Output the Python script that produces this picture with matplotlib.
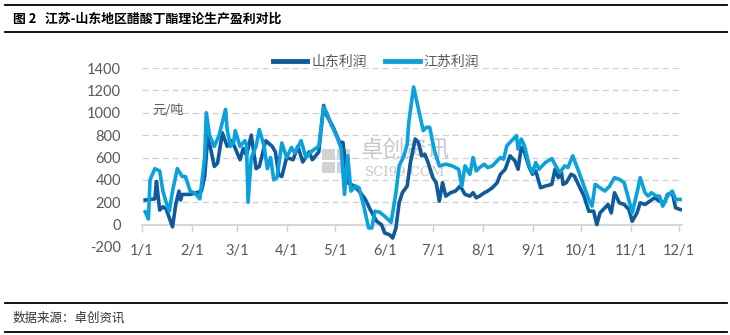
import numpy as np
import pandas as pd
import matplotlib
matplotlib.use('Agg')
import matplotlib.pyplot as plt
import matplotlib.dates as mdates
from matplotlib.lines import Line2D
from matplotlib.patches import Rectangle

plt.rcParams['font.family'] = ['Lato', 'Noto Sans CJK SC', 'DejaVu Sans']

YEAR = '2023'

sd_dates = ['01-03', '01-09', '01-10', '01-12', '01-14', '01-16', '01-17', '01-20', '01-22', '01-24',
            '01-25', '01-26', '01-31', '02-05', '02-07', '02-09', '02-11', '02-15', '02-17', '02-20',
            '02-23', '02-26', '03-03', '03-05', '03-07', '03-10', '03-13', '03-15', '03-19', '03-23',
            '03-25', '03-27', '03-29', '04-01', '04-05', '04-08', '04-11', '04-15', '04-17', '04-21',
            '04-24', '04-26', '04-30', '05-04', '05-06', '05-09', '05-13', '05-17', '05-20', '05-23',
            '05-27', '05-30', '06-01', '06-04', '06-06', '06-08', '06-10', '06-12', '06-15', '06-17',
            '06-20', '06-22', '06-24', '06-26', '06-28', '07-01', '07-03', '07-05', '07-07', '07-09',
            '07-12', '07-15', '07-18', '07-21', '07-24', '07-26', '07-28', '07-30', '08-02', '08-04',
            '08-07', '08-10', '08-12', '08-15', '08-18', '08-21', '08-23', '08-25', '08-27', '08-30',
            '09-01', '09-03', '09-06', '09-09', '09-13', '09-15', '09-17', '09-19', '09-20', '09-22',
            '09-25', '09-27', '09-30', '10-03', '10-06', '10-09', '10-11', '10-13', '10-15', '10-18',
            '10-20', '10-22', '10-25', '10-28', '10-31', '11-02', '11-05', '11-07', '11-10', '11-13',
            '11-16', '11-19', '11-22', '11-24', '11-27', '11-29', '12-02']
sd_vals = [220, 230, 385, 130, 160, 140, 100, -20, 180, 300,
           220, 270, 270, 290, 300, 430, 800, 520, 550, 820,
           700, 750, 580, 680, 620, 800, 500, 520, 750, 700,
           650, 450, 430, 600, 580, 700, 560, 650, 580, 650,
           1065, 975, 870, 735, 735, 375, 345, 285, 225, 135,
           30, 0, -75, -90, -120, -30, 195, 285, 345, 555,
           765, 735, 615, 630, 555, 420, 375, 210, 375, 255,
           285, 300, 345, 270, 255, 285, 240, 255, 285, 300,
           330, 375, 450, 495, 615, 570, 495, 690, 645, 510,
           450, 480, 330, 345, 360, 495, 420, 465, 360, 375,
           450, 435, 345, 255, 120, 120, 0, 105, 135, 180,
           105, 285, 195, 180, 135, 30, 105, 195, 180, 210,
           240, 210, 195, 270, 285, 150, 135]

js_dates = ['01-03', '01-05', '01-06', '01-09', '01-12', '01-14', '01-16', '01-18', '01-20', '01-23',
            '01-26', '01-28', '01-31', '02-03', '02-06', '02-09', '02-10', '02-12', '02-15', '02-18',
            '02-22', '02-23', '02-25', '02-27', '02-28', '03-03', '03-06', '03-07', '03-08', '03-10',
            '03-13', '03-15', '03-18', '03-20', '03-22', '03-24', '03-26', '03-29', '04-01', '04-04',
            '04-06', '04-10', '04-13', '04-17', '04-21', '04-24', '04-26', '04-29', '05-02', '05-05',
            '05-07', '05-09', '05-11', '05-14', '05-16', '05-19', '05-22', '05-24', '05-26', '05-29',
            '06-01', '06-05', '06-08', '06-10', '06-13', '06-15', '06-16', '06-19', '06-22', '06-25',
            '06-27', '06-29', '07-02', '07-05', '07-09', '07-13', '07-17', '07-19', '07-21', '07-24',
            '07-26', '07-28', '07-30', '08-02', '08-04', '08-07', '08-10', '08-12', '08-14', '08-16',
            '08-19', '08-22', '08-23', '08-25', '08-27', '08-30', '09-01', '09-03', '09-05', '09-09',
            '09-13', '09-16', '09-18', '09-21', '09-23', '09-26', '09-30', '10-03', '10-06', '10-08',
            '10-10', '10-13', '10-16', '10-19', '10-22', '10-25', '10-28', '11-01', '11-02', '11-05',
            '11-07', '11-10', '11-12', '11-14', '11-17', '11-19', '11-21', '11-24', '11-27', '11-29',
            '12-02']
js_vals = [115, 50, 400, 500, 480, 300, 200, 120, 300, 500,
           430, 430, 300, 280, 230, 600, 1000, 800, 700, 800,
           1030, 850, 700, 730, 840, 700, 750, 720, 200, 600,
           700, 850, 700, 500, 600, 400, 420, 730, 600, 690,
           640, 750, 600, 660, 700, 1050, 1000, 885, 795, 675,
           270, 615, 300, 345, 330, 165, -30, -30, 120, 110,
           75, 20, 285, 525, 615, 720, 915, 1230, 1035, 840,
           870, 870, 660, 525, 540, 525, 495, 345, 525, 450,
           600, 480, 510, 540, 510, 525, 570, 600, 585, 705,
           750, 795, 675, 765, 705, 525, 465, 555, 495, 555,
           590, 510, 465, 525, 510, 615, 465, 345, 225, 165,
           360, 330, 300, 345, 420, 405, 375, 165, 105, 285,
           420, 285, 255, 285, 255, 255, 165, 255, 300, 225,
           225]

month_ticks = ['01-01', '02-01', '03-01', '04-01', '05-01', '06-01',
               '07-01', '08-01', '09-01', '10-01', '11-01', '12-01']
y_ticks = [-200, 0, 200, 400, 600, 800, 1000, 1200, 1400]

DARK = '#0F5A9C'
LIGHT = '#0AA2DE'
GREY = '#595959'


def to_dates(md):
    return pd.to_datetime([YEAR + '-' + d for d in md])


W, H = 730, 335
fig = plt.figure(figsize=(W / 100, H / 100), dpi=100)
ax = fig.add_axes([142 / W, 1 - 247 / H, 540 / W, 179 / H])

ax.plot(to_dates(sd_dates), sd_vals, color=DARK, lw=2.6, label='山东利润', zorder=3)
ax.plot(to_dates(js_dates), js_vals, color=LIGHT, lw=2.6, label='江苏利润', zorder=4)

ax.set_xlim(pd.Timestamp(YEAR + '-01-01'), pd.Timestamp(YEAR + '-12-03'))
ax.set_ylim(-200, 1400)
ax.set_yticks(y_ticks)
ax.set_yticklabels([str(v) for v in y_ticks])
for v in y_ticks:
    if v != 0:
        ax.axhline(v, color='#D0D0D0', lw=0.9, ls=(0, (5, 3)), zorder=1)

ticks = to_dates(month_ticks)
ax.set_xticks(ticks)
ax.set_xticklabels([f'{t.month}/{t.day}' for t in ticks])

for s in ['top', 'right', 'left']:
    ax.spines[s].set_visible(False)
ax.spines['bottom'].set_position(('data', 0))
ax.spines['bottom'].set_color('#D0D0D0')
ax.spines['bottom'].set_linewidth(1.2)
ax.tick_params(axis='x', length=5, color='#D0D0D0', width=1, pad=9, labelsize=10.5, labelcolor=GREY)
ax.tick_params(axis='y', length=0, pad=15, labelsize=10.5, labelcolor=GREY)

ax.text(0.02, 0.765, '元/吨', transform=ax.transAxes, fontsize=9.5, color=GREY,
        family=['Noto Sans CJK SC'], va='center', ha='left')

# watermark
for (px, py, pw, ph) in [(322, 149, 13, 11), (337, 149, 13, 11), (322, 162, 13, 11), (337, 162, 13, 11)]:
    ax.add_patch(Rectangle(((px - 142) / 540, (247 - py - ph) / 179), pw / 540, ph / 179,
                           transform=ax.transAxes, color='#D2D2D2', zorder=2, lw=0))
ax.text((405 - 142) / 540, (247 - 150) / 179, '卓创资讯', transform=ax.transAxes, fontsize=16,
        color='#C8C8C8', family=['Noto Sans CJK SC'], ha='center', va='center', zorder=2)
ax.text((405 - 142) / 540, (247 - 172) / 179, 'SCI99.COM', transform=ax.transAxes, fontsize=9.5,
        color='#C8C8C8', family=['DejaVu Serif'], ha='center', va='center', zorder=2)

leg = fig.legend(loc='center', bbox_to_anchor=(376 / W, 1 - 62 / H), ncol=2, frameon=False,
                 handlelength=2.5, columnspacing=1.3, handletextpad=0.3,
                 prop={'family': ['Noto Sans CJK SC'], 'size': 10})
for t in leg.get_texts():
    t.set_color(GREY)
for h in leg.get_lines():
    h.set_linewidth(3.5)

# header / footer rules
for py in [5, 32, 303, 332]:
    fig.add_artist(Line2D([5 / W, 727 / W], [1 - py / H, 1 - py / H], transform=fig.transFigure,
                          color='black', lw=1.3))
fig.text(13 / W, 1 - 19 / H, '图 2   江苏-山东地区醋酸丁酯理论生产盈利对比', fontsize=9.3,
         fontweight='bold', family=['Noto Sans CJK SC'], va='center', ha='left', color='black')
fig.text(13 / W, 1 - 318 / H, '数据来源：卓创资讯', fontsize=9, family=['Noto Sans CJK SC'],
         va='center', ha='left', color='#333333')

fig.savefig('out.png', dpi=100)
